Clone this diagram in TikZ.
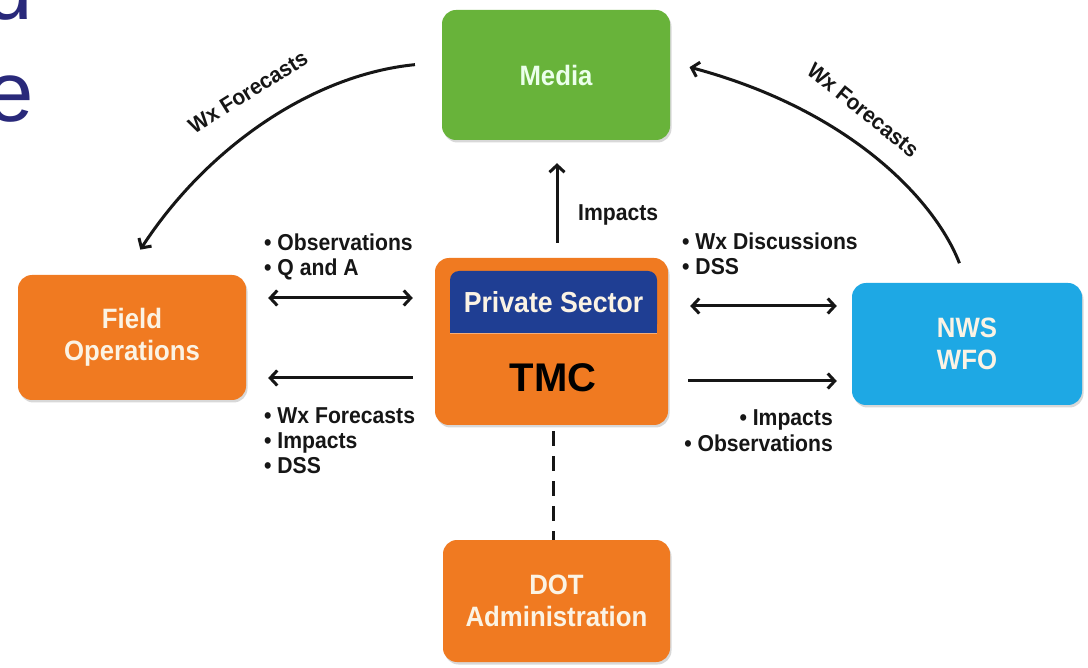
\documentclass[tikz,border=0pt]{standalone}
\usepackage{fontspec}
\setmainfont{Liberation Sans}
\newfontfamily\nbf[FakeStretch=0.92]{Liberation Sans}
\newfontfamily\cbf[FakeStretch=0.95]{Liberation Sans}
\usetikzlibrary{arrows.meta,shadows}
\definecolor{orng}{HTML}{F07A21}
\definecolor{grn}{HTML}{68B33A}
\definecolor{sky}{HTML}{1EA8E4}
\definecolor{navy}{HTML}{1F3E93}
\definecolor{slide}{HTML}{29297A}
\definecolor{cream}{HTML}{FBF3E4}
\definecolor{ink}{HTML}{161616}
\begin{document}
\begin{tikzpicture}[x=1pt,y=-1pt,
  box/.style={rounded corners=14pt, inner sep=0pt, align=center, text=cream,
    font=\nbf\bfseries\fontsize{28}{32}\selectfont,
    drop shadow={opacity=0.3, shadow xshift=1.5pt, shadow yshift=-2.5pt}},
  lbl/.style={inner sep=0pt, text=ink, font=\nbf\bfseries\fontsize{23}{25}\selectfont},
  curvelbl/.style={inner sep=0pt, text=ink, font=\cbf\bfseries\fontsize{22}{24}\selectfont},
  conn/.style={line width=3pt, draw=ink},
  tip/.style={-{Straight Barb[length=7pt,width=15pt]}},
  dtip/.style={{Straight Barb[length=7pt,width=15pt]}-{Straight Barb[length=7pt,width=15pt]}},
  slidetxt/.style={inner sep=0pt, text=slide, font=\fontsize{85}{90}\selectfont}]
\useasboundingbox (0,0) rectangle (1088,668);
\clip (0,0) rectangle (1088,668);
\fill[white] (0,0) rectangle (1088,668);

% slide text fragments
\node[slidetxt, anchor=base west] (sd) at (-15,20) {d};
\node[slidetxt, anchor=base west] (se) at (-14,122) {e};

% boxes
\node[box, fill=grn, minimum width=228pt, minimum height=130pt, text=green!8!white] (media) at (556,75) {Media};
\node[box, fill=orng, minimum width=233pt, minimum height=167pt] (tmc) at (551.5,341.5) {};
\node[box, fill=orng, minimum width=228pt, minimum height=125pt] (fo) at (132,337.5) {Field\\Operations};
\node[box, fill=sky, minimum width=230pt, minimum height=122pt] (nws) at (967,344) {NWS\\WFO};
\node[box, fill=orng, minimum width=227pt, minimum height=122pt] (dot) at (556.5,601) {DOT\\Administration};

% TMC inner band
\fill[navy] (450,318) rectangle (657,333);
\node[fill=navy, rounded corners=9pt, minimum width=207pt, minimum height=62pt, inner sep=0pt,
  text=cream, font=\nbf\bfseries\fontsize{29}{31}\selectfont] (ps) at (553.5,302) {Private Sector};
\draw[orng!60!white, line width=1pt] (ps.south west) -- (ps.south east);
\node[inner sep=0pt, text=black, font=\bfseries\fontsize{40}{42}\selectfont] (tmctxt) at (553,378) {TMC};

% helper rows
\coordinate (rowA) at (0,298);
\coordinate (rowB) at (0,378);
\coordinate (rowC) at (0,306);
\coordinate (rowD) at (0,381);
\coordinate (colI) at (557,0);

% connectors
\draw[conn, dtip, shorten <=22pt, shorten >=22pt] (fo.east |- rowA) -- (tmc.west |- rowA);
\draw[conn, tip, shorten <=22pt, shorten >=22pt] (tmc.west |- rowB) -- (fo.east |- rowB);
\draw[conn, dtip, shorten <=22pt, shorten >=15pt] (tmc.east |- rowC) -- (nws.west |- rowC);
\draw[conn, tip, shorten <=20pt, shorten >=15pt] (tmc.east |- rowD) -- (nws.west |- rowD);
\draw[conn, tip, shorten <=15pt, shorten >=23pt] (tmc.north -| colI) -- (media.south -| colI);
\draw[conn, dash pattern=on 15pt off 10pt, shorten <=6pt] (tmctxt |- tmc.south) -- (tmctxt |- dot.north);
\draw[conn, tip, shorten <=27pt, shorten >=30pt] ([yshift=13pt]media.west) .. controls (310,75) and (205,150) .. ([xshift=-8pt]fo.north);
\draw[conn, tip, shorten <=21pt, shorten >=20pt] (nws.north) .. controls (935,200) and (850,110) .. ([yshift=13pt]media.east);

% labels
\node[lbl, anchor=base west] (l1) at (264,251) {• Observations};
\node[lbl, anchor=base west] (l2) at (264,276) {• Q and A};
\node[lbl, anchor=base west] (l3) at (264,424) {• Wx Forecasts};
\node[lbl, anchor=base west] (l4) at (264,449) {• Impacts};
\node[lbl, anchor=base west] (l5) at (264,474) {• DSS};
\node[lbl, anchor=base west] (r1) at (682,250) {• Wx Discussions};
\node[lbl, anchor=base west] (r2) at (682,275) {• DSS};
\node[lbl, anchor=base east] (r3) at (833,426) {• Impacts};
\node[lbl, anchor=base east] (r4) at (833,452) {• Observations};
\node[lbl, anchor=base west] (im) at (578,221) {Impacts};
\node[curvelbl, rotate=32] (wl) at (248,92) {Wx Forecasts};
\node[curvelbl, rotate=-39] (wr) at (863,110) {Wx Forecasts};
\end{tikzpicture}
\end{document}
